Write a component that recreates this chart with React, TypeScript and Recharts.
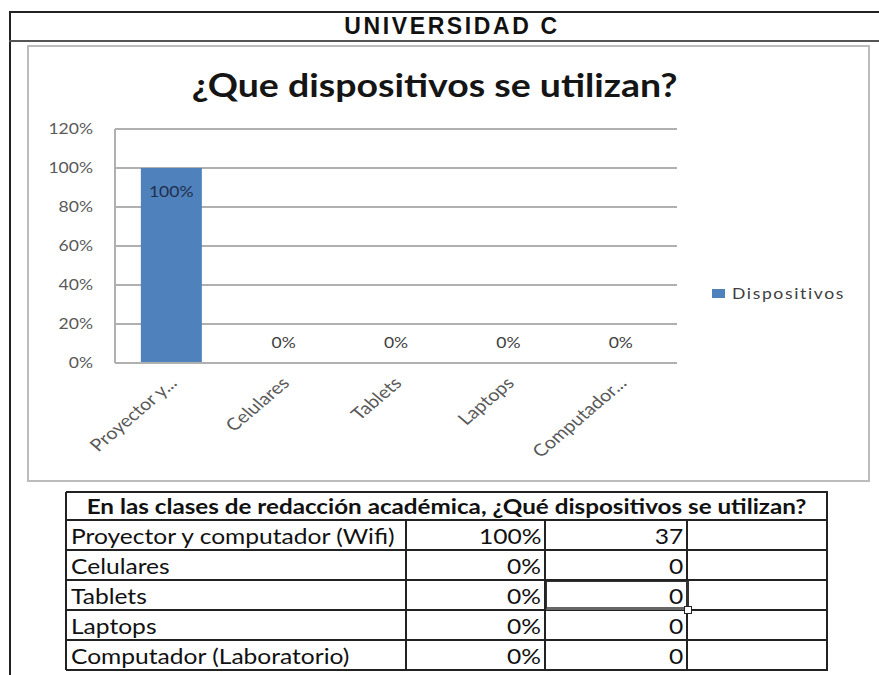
import React from 'react';
import { ComposedChart, Bar, Line, XAxis, YAxis, CartesianGrid, Legend, LabelList } from 'recharts';

const categories = ['Proyector y...', 'Celulares', 'Tablets', 'Laptops', 'Computador...'];
const percentValues = [1, 0, 0, 0, 0];
const yTicks = [0, 0.2, 0.4, 0.6, 0.8, 1.0, 1.2];
const seriesName = 'Dispositivos';
const headerTitle = 'UNIVERSIDAD C';
const chartTitle = '¿Que dispositivos se utilizan?';
const tableTitle = 'En las clases de redacción académica, ¿Qué dispositivos se utilizan?';
const tableRowLabels = ['Proyector y computador (Wifi)', 'Celulares', 'Tablets', 'Laptops', 'Computador (Laboratorio)'];
const tablePercents = ['100%', '0%', '0%', '0%', '0%'];
const tableCounts = [37, 0, 0, 0, 0];

const data = categories.map((c, i) => ({ name: c, [seriesName]: percentValues[i] }));

const FONT = 'Lato, "Open Sans", sans-serif';
const BAR_COLOR = '#4f81bd';
const SX = 1.17;
const pct = (v: number) => `${Math.round(v * 100)}%`;

const XTick = (props: any) => {
  const { x, y, payload } = props;
  return (
    <g transform={`translate(${x + 2},${y + 9}) scale(${SX},1) rotate(-45)`}>
      <text textAnchor="end" dy="0.35em" fontSize={17} fill="#595959" fontFamily={FONT}>
        {payload.value}
      </text>
    </g>
  );
};

const YTick = (props: any) => {
  const { x, y, payload } = props;
  return (
    <g transform={`translate(${x},${y}) scale(${SX},1)`}>
      <text textAnchor="end" dy="0.35em" fontSize={15} fill="#595959" fontFamily={FONT}>
        {pct(payload.value)}
      </text>
    </g>
  );
};

const renderLabel = (props: any) => {
  const { x, y, value } = props;
  const ty = value > 0 ? y + 24 : y - 20;
  return (
    <g transform={`translate(${x},${ty}) scale(${SX},1)`}>
      <text textAnchor="middle" dy="0.35em" fontSize={15} fontFamily={FONT} fill={value > 0 ? '#1f2f4a' : '#404040'}>
        {pct(value)}
      </text>
    </g>
  );
};

const renderLegend = () => (
  <div style={{ display: 'flex', alignItems: 'center', fontFamily: FONT, fontSize: 15, color: '#404040', whiteSpace: 'nowrap' }}>
    <span style={{ display: 'inline-block', width: 13, height: 9, background: BAR_COLOR, marginRight: 7 }} />
    <span style={{ display: 'inline-block', letterSpacing: 1.4, transform: `scaleX(${SX})`, transformOrigin: 'left center' }}>{seriesName}</span>
  </div>
);

const LINE = '#222';
const colX = [66, 406, 545, 687, 827];
const headerTop = 492;
const headerBottom = 520;
const rowH = 30;

const Stretch = ({ children, origin, style }: any) => (
  <span style={{ display: 'inline-block', transform: `scaleX(${SX})`, transformOrigin: origin, ...style }}>{children}</span>
);

export default function App() {
  const rowsTop = (i: number) => headerBottom + i * rowH;
  const tableBottom = rowsTop(tableRowLabels.length);
  return (
    <div style={{ position: 'absolute', left: 0, top: 0, width: 879, height: 675, background: '#fff', overflow: 'hidden' }}>
      {/* sheet lines */}
      <div style={{ position: 'absolute', left: 9, top: 11, width: 870, height: 2, background: '#222' }} />
      <div style={{ position: 'absolute', left: 9, top: 11, width: 2, height: 664, background: '#222' }} />
      <div style={{ position: 'absolute', left: 9, top: 40, width: 870, height: 2, background: '#555' }} />
      <div style={{ position: 'absolute', left: 9, top: 13, width: 886, height: 27, display: 'flex', alignItems: 'center', justifyContent: 'center' }}>
        <span style={{ fontFamily: '"Liberation Sans", Arial, sans-serif', fontWeight: 700, fontSize: 23, color: '#111', letterSpacing: 2.6, lineHeight: '27px' }}>{headerTitle}</span>
      </div>

      {/* chart frame */}
      <div style={{ position: 'absolute', left: 27, top: 45, width: 839, height: 433, border: '2px solid #bcbcbc' }} />
      <div style={{ position: 'absolute', left: 27, top: 65, width: 816, textAlign: 'center', lineHeight: '40px' }}>
        <Stretch origin="center center" style={{ fontFamily: FONT, fontWeight: 700, fontSize: 32, color: '#151515' }}>{chartTitle}</Stretch>
      </div>
      <div style={{ position: 'absolute', left: 27, top: 45 }}>
        <ComposedChart width={841} height={433} data={data} margin={{ top: 84, right: 191, bottom: 35, left: 0 }} barCategoryGap="23%">
          <CartesianGrid vertical={false} stroke="#b0b0b0" strokeWidth={2} />
          <XAxis dataKey="name" height={80} axisLine={{ stroke: '#b0b0b0', strokeWidth: 2 }} tickLine={false} tick={<XTick />} interval={0} />
          <YAxis width={88} domain={[0, 1.2]} ticks={yTicks} axisLine={{ stroke: '#b0b0b0', strokeWidth: 2 }}
            tickLine={false} tickMargin={16} tick={<YTick />} />
          <Legend layout="vertical" align="center" verticalAlign="middle" content={renderLegend}
            wrapperStyle={{ left: 685, top: 239, width: 'auto' }} />
          <Bar dataKey={seriesName} fill={BAR_COLOR} isAnimationActive={false} />
          <Line dataKey={seriesName} stroke="none" dot={false} activeDot={false} legendType="none" isAnimationActive={false}>
            <LabelList dataKey={seriesName} content={renderLabel} />
          </Line>
        </ComposedChart>
      </div>

      {/* data table */}
      <div style={{ position: 'absolute', left: 0, top: 0, fontFamily: FONT, fontSize: 21, color: '#111' }}>
        {[headerTop, headerBottom, ...tableRowLabels.map((_, i) => rowsTop(i + 1))].map((yy, i) => (
          <div key={`h${i}`} style={{ position: 'absolute', left: colX[0], top: yy - 1, width: colX[4] - colX[0] + 1, height: 2, background: LINE }} />
        ))}
        {colX.map((xx, i) => (
          <div key={`v${i}`} style={{ position: 'absolute', left: xx - 1, top: i === 0 || i === 4 ? headerTop : headerBottom, width: 2, height: tableBottom - (i === 0 || i === 4 ? headerTop : headerBottom), background: LINE }} />
        ))}
        <div style={{ position: 'absolute', left: colX[0], top: headerTop, width: colX[4] - colX[0], height: headerBottom - headerTop, display: 'flex', alignItems: 'center', justifyContent: 'center' }}>
          <Stretch origin="center center" style={{ fontWeight: 700, whiteSpace: 'nowrap', fontSize: 20.7 }}>{tableTitle}</Stretch>
        </div>
        {tableRowLabels.map((label, i) => (
          <React.Fragment key={label}>
            <div style={{ position: 'absolute', left: colX[0] + 5, top: rowsTop(i), height: rowH, display: 'flex', alignItems: 'center', whiteSpace: 'nowrap' }}>
              <Stretch origin="left center">{label}</Stretch>
            </div>
            <div style={{ position: 'absolute', left: colX[1], width: colX[2] - colX[1] - 4, top: rowsTop(i), height: rowH, display: 'flex', alignItems: 'center', justifyContent: 'flex-end' }}>
              <Stretch origin="right center">{tablePercents[i]}</Stretch>
            </div>
            <div style={{ position: 'absolute', left: colX[2], width: colX[3] - colX[2] - 4, top: rowsTop(i), height: rowH, display: 'flex', alignItems: 'center', justifyContent: 'flex-end' }}>
              <Stretch origin="right center">{tableCounts[i]}</Stretch>
            </div>
          </React.Fragment>
        ))}
        {/* active cell */}
        <div style={{ position: 'absolute', left: colX[2] + 1, top: rowsTop(2) + 1, width: colX[3] - colX[2] - 3, height: rowH - 5, border: '1px solid #333', borderRight: '3px solid #333', borderBottom: '3px solid #666' }} />
        <div style={{ position: 'absolute', left: colX[3] - 3, top: rowsTop(3) - 4, width: 6, height: 6, background: '#fff', border: '1px solid #222' }} />
      </div>
    </div>
  );
}
